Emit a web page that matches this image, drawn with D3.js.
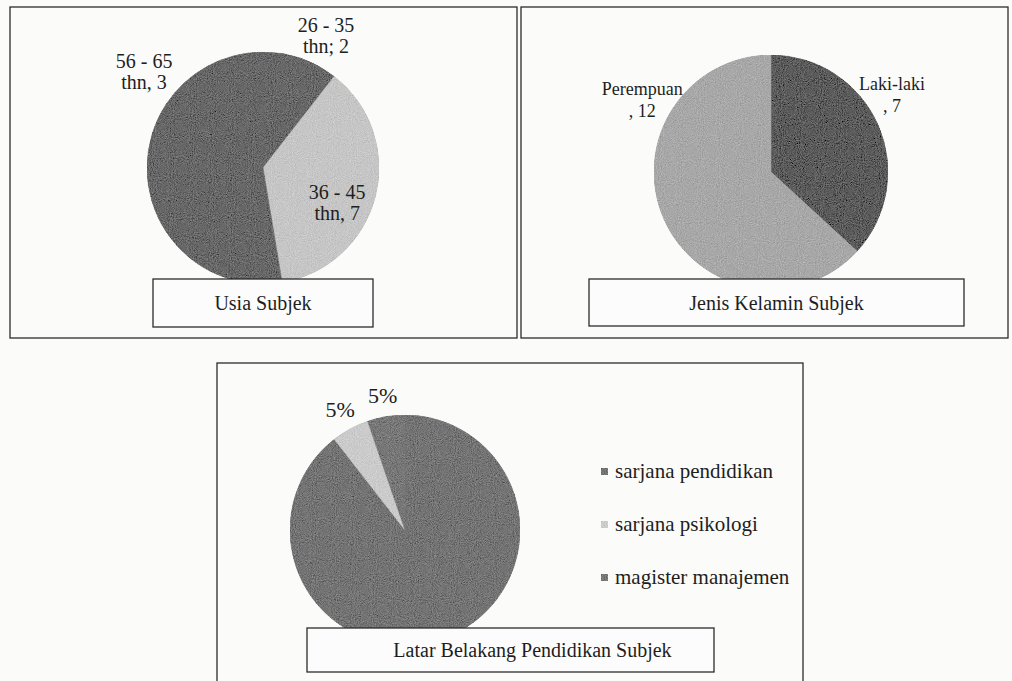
<!DOCTYPE html>
<html>
<head>
<meta charset="utf-8">
<script src="https://cdn.jsdelivr.net/npm/d3@7.9.0/dist/d3.min.js"></script>
<style>
  body { margin: 0; background: #fbfbfa; }
  svg { display: block; }
  text { font-family: "Liberation Serif", "DejaVu Serif", serif; }
</style>
</head>
<body>
<svg id="chart" width="1012" height="681"></svg>
<script>
// Usia Subjek (the 46 - 55 slice has no label in the scan)
const ageLabels = ["26 - 35 thn; 2", "36 - 45 thn, 7", "46 - 55 thn, 7", "56 - 65 thn, 3"];
const ageValues = [2, 7, 7, 3];
const ageShown = [true, true, false, true];

// Jenis Kelamin Subjek
const genderLabels = ["Laki-laki , 7", "Perempuan , 12"];
const genderValues = [7, 12];

// Latar Belakang Pendidikan Subjek
const eduCategories = ["sarjana pendidikan", "sarjana psikologi", "magister manajemen"];
const eduValues = [17, 1, 1];
const eduShown = [false, true, true];

const svg = d3.select("#chart");
const ink = "#1e1e1e";
const deg = Math.PI / 180;

// grain filter so the fills look like the scanned print
const defs = svg.append("defs");
const f = defs.append("filter").attr("id", "grain").attr("x", 0).attr("y", 0).attr("width", 1).attr("height", 1);
f.append("feTurbulence").attr("type", "fractalNoise").attr("baseFrequency", 0.95).attr("numOctaves", 2).attr("seed", 3).attr("result", "n");
f.append("feColorMatrix").attr("in", "n").attr("type", "matrix")
  .attr("values", "0.33 0.33 0.33 0 0  0.33 0.33 0.33 0 0  0.33 0.33 0.33 0 0  0 0 0 0 1").attr("result", "g");
f.append("feComposite").attr("in", "SourceGraphic").attr("in2", "g").attr("operator", "arithmetic")
  .attr("k1", 0).attr("k2", 1).attr("k3", 0.5).attr("k4", -0.25).attr("result", "c");
f.append("feComposite").attr("in", "c").attr("in2", "SourceGraphic").attr("operator", "in");

function frame(x, y, w, h) {
  svg.append("rect").attr("x", x).attr("y", y).attr("width", w).attr("height", h)
    .attr("fill", "none").attr("stroke", "#2b2b2b").attr("stroke-width", 1.3);
}

function caption(x, y, w, h, text, shift) {
  svg.append("rect").attr("x", x).attr("y", y).attr("width", w).attr("height", h)
    .attr("fill", "#fcfcfc").attr("stroke", "#2b2b2b").attr("stroke-width", 1.3);
  svg.append("text").attr("x", x + w / 2 + (shift || 0)).attr("y", y + h / 2 + 7)
    .attr("text-anchor", "middle").attr("font-size", 20).attr("fill", ink).text(text);
}

function drawPie(cx, cy, r, values, colors) {
  const pie = d3.pie().sort(null).value(d => d);
  const arc = d3.arc().innerRadius(0).outerRadius(r);
  const g = svg.append("g").attr("transform", `translate(${cx},${cy})`).attr("filter", "url(#grain)");
  const arcs = pie(values);
  g.selectAll("path").data(arcs).join("path")
    .attr("d", arc)
    .attr("fill", (d, i) => colors[i])
    .attr("stroke", (d, i) => colors[i])
    .attr("stroke-width", 0.6);
  return arcs;
}

// place a label block around a slice: angle offset (deg) from the slice middle and distance
function labelAt(c, d, offDeg, dist, lines, size, lead, base) {
  const a = (d.startAngle + d.endAngle) / 2 + offDeg * deg;
  const x = c[0] + Math.sin(a) * dist;
  const y = c[1] - Math.cos(a) * dist + base;
  const t = svg.append("text").attr("x", x).attr("y", y).attr("text-anchor", "middle")
    .attr("font-size", size).attr("fill", ink);
  lines.forEach((s, i) => t.append("tspan").attr("x", x).attr("dy", i ? lead : 0).text(s));
}

// --- frames
frame(10, 7, 507, 331);
frame(521, 7, 487, 331);
frame(217, 363, 586, 340);

// --- Usia Subjek
const ageC = [263, 168], ageR = 116;
const ageDark = "#686868";
const ageArcs = drawPie(ageC[0], ageC[1], ageR, ageValues, [ageDark, "#c6c6c6", ageDark, ageDark]);
const ageLabelPos = [[6.6, 146], [11, 82], null, [-22.6, 153]];
ageArcs.forEach((d, i) => {
  if (!ageShown[i]) return;
  const parts = ageLabels[i].split(" thn");
  labelAt(ageC, d, ageLabelPos[i][0], ageLabelPos[i][1], [parts[0], "thn" + parts[1]], 20, 21, -4);
});
caption(153, 279, 220, 48, "Usia Subjek");

// --- Jenis Kelamin Subjek
const genC = [771, 172], genR = 117;
const genArcs = drawPie(genC[0], genC[1], genR, genderValues, ["#5c5c5c", "#a8a8a8"]);
const genLabelPos = [[-9.1, 144], [53.2, 148]];
genArcs.forEach((d, i) => {
  const parts = genderLabels[i].split(" ,");
  labelAt(genC, d, genLabelPos[i][0], genLabelPos[i][1], [parts[0], "," + parts[1]], 18, 22, -4);
});
caption(589, 279, 375, 47, "Jenis Kelamin Subjek");

// --- Latar Belakang Pendidikan Subjek
const eduC = [405, 530], eduR = 115;
const eduColors = ["#747474", "#cbcbcb", "#787878"];
const eduArcs = drawPie(eduC[0], eduC[1], eduR, eduValues, eduColors);
const eduTotal = d3.sum(eduValues);
eduArcs.forEach((d, i) => {
  if (!eduShown[i]) return;
  labelAt(eduC, d, 0, 136, [Math.round(d.value / eduTotal * 100) + "%"], 22, 0, 7);
});

const legend = svg.append("g").attr("transform", "translate(601,478)");
eduCategories.forEach((c, i) => {
  const row = legend.append("g").attr("transform", `translate(0,${i * 53})`);
  row.append("rect").attr("x", 0).attr("y", -10).attr("width", 7).attr("height", 7)
    .attr("fill", eduColors[i]).attr("filter", "url(#grain)");
  row.append("text").attr("x", 14).attr("y", 0).attr("font-size", 21).attr("fill", ink).text(c);
});
caption(307, 628, 407, 44, "Latar Belakang Pendidikan Subjek", 22);
</script>
</body>
</html>
